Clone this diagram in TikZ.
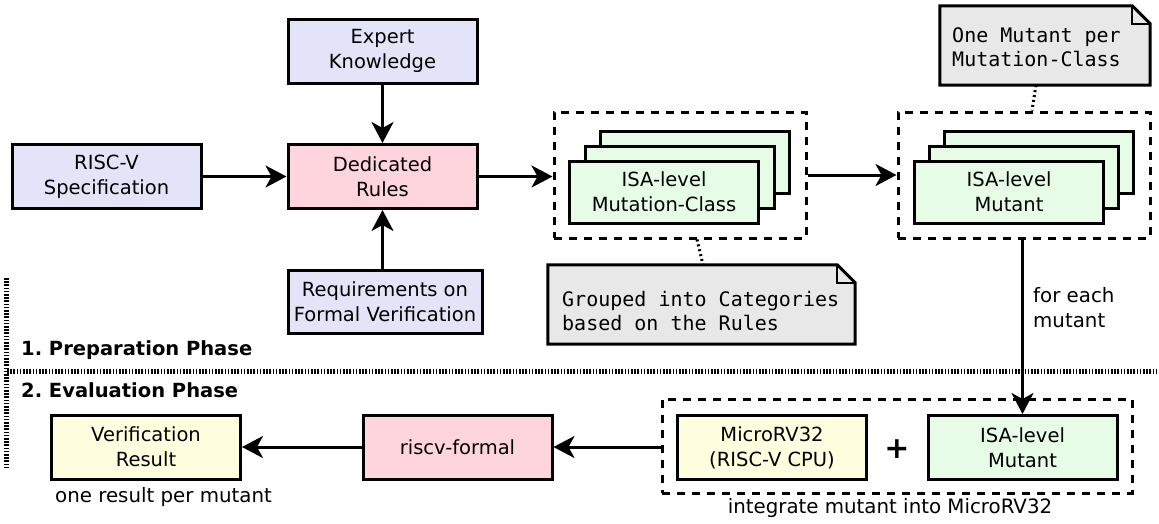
\documentclass[tikz,border=0pt]{standalone}
\usepackage{fontspec}
\setmainfont{DejaVu Sans}
\setmonofont{DejaVu Sans Mono}
\usetikzlibrary{arrows.meta,calc}
\definecolor{cblue}{HTML}{E4E4F8}
\definecolor{cpink}{HTML}{FFD5DD}
\definecolor{cgreen}{HTML}{E6FCE6}
\definecolor{cyellow}{HTML}{FFFFE0}
\definecolor{cnote}{HTML}{E8E8E8}
\frenchspacing
\tikzset{
  box/.style={draw, line width=3pt, minimum width=189pt, minimum height=64pt, align=center, inner sep=0pt, font=\fontsize{19.5}{25}\selectfont},
  card/.style={box, fill=cgreen, minimum height=62pt},
  grp/.style={draw, line width=3pt, dash pattern=on 8pt off 7pt, inner sep=0pt},
  arr/.style={line width=3pt, -{Stealth[length=21pt,width=22pt,inset=6pt]}},
  dotc/.style={line width=3pt, dash pattern=on 2pt off 3pt},
  notetxt/.style={align=left, inner sep=0pt, font=\ttfamily\fontsize{20}{24}\selectfont},
  lbl/.style={inner sep=0pt, font=\fontsize{19.8}{25}\selectfont, align=left},
  phase/.style={inner sep=0pt, anchor=west, font=\bfseries\fontsize{19.5}{25}\selectfont},
  sep/.style={line width=5pt, dash pattern=on 1.6pt off 1.6pt}
}
\begin{document}
\begin{tikzpicture}[x=1pt,y=-1pt]
\useasboundingbox (0,0) rectangle (1159,523);
% upper row
\node[box, fill=cblue] (expert) at (382.5,51) {Expert\\Knowledge};
\node[box, fill=cblue] (riscv) at (106.5,176.5) {RISC-V\\Specification};
\node[box, fill=cpink] (rules) at (382.5,176.5) {Dedicated\\Rules};
\node[box, fill=cblue, minimum width=194pt, minimum height=63pt] (req) at (385,301.5) {Requirements on\\Formal Verification};
% group A
\node[grp, minimum width=252pt, minimum height=126pt] (dashA) at (680,175) {};
\node[card] (a3) at (694.5,162) {};
\node[card] (a2) at (679.5,177) {};
\node[card] (a1) at (664,192) {ISA-level\\Mutation-Class};
% group B
\node[grp, minimum width=252pt, minimum height=126pt] (dashB) at (1024,175) {};
\node[card] (b3) at (1038.5,162) {};
\node[card] (b2) at (1023.5,177) {};
\node[card] (b1) at (1009,192) {ISA-level\\Mutant};
% notes
\node[minimum width=210pt, minimum height=79pt, inner sep=0pt] (note1) at (1045,45.5) {};
\draw[line width=3pt, fill=cnote, line join=miter]
  (note1.north west) -- ($(note1.north east)+(-18,0)$) -- ($(note1.north east)+(0,18)$) -- (note1.south east) -- (note1.south west) -- cycle;
\draw[line width=1.5pt] ($(note1.north east)+(-18,0)$) -- ($(note1.north east)+(-18,18)$) -- ($(note1.north east)+(0,18)$);
\node[notetxt, anchor=west] (note1t) at (952,47) {One Mutant per\\Mutation-Class};
\node[minimum width=307pt, minimum height=79pt, inner sep=0pt] (note2) at (701.5,304.5) {};
\draw[line width=3pt, fill=cnote, line join=miter]
  (note2.north west) -- ($(note2.north east)+(-18,0)$) -- ($(note2.north east)+(0,18)$) -- (note2.south east) -- (note2.south west) -- cycle;
\draw[line width=1.5pt] ($(note2.north east)+(-18,0)$) -- ($(note2.north east)+(-18,18)$) -- ($(note2.north east)+(0,18)$);
\node[notetxt, anchor=west] (note2t) at (562,311) {Grouped into Categories\\based on the Rules};
% dotted links
\draw[dotc] ($(note1.south)+(-9,0)$) -- ($(dashB.north)+(8,0)$);
\draw[dotc] ($(dashA.south)+(17,0)$) -- ($(note2.north)+(1.5,0)$);
% upper arrows
\draw[arr] (expert) -- (rules);
\draw[arr] (riscv) -- (rules);
\draw[arr] (req.north -| rules.south) -- (rules.south);
\draw[arr] (rules.east) -- (rules.east -| dashA.west);
\draw[arr] (dashA) -- (dashB);
% separators
\draw[sep] (7,371) -- (1159,371);
\draw[sep] (6,278) -- (6,467);
\node[phase] (p1) at (21,350) {1. Preparation Phase};
\node[phase] (p2) at (21,390) {2. Evaluation Phase};
% bottom row
\node[box, fill=cyellow] (verif) at (146,447) {Verification\\Result};
\node[box, fill=cpink] (rformal) at (457.5,447) {riscv-formal};
\node[grp, minimum width=470pt, minimum height=94pt] (dashC) at (897,446) {};
\node[box, fill=cyellow] (micro) at (772,447.5) {MicroRV32\\(RISC-V CPU)};
\node[box, fill=cgreen] (mutant) at (1022.5,447.5) {ISA-level\\Mutant};
\node[inner sep=0pt, font=\bfseries\fontsize{30}{30}\selectfont] (plus) at (897,449) {+};
\node[lbl] (onepm) at (163.5,497) {one result per mutant};
\node[lbl] (integ) at (890,508) {integrate mutant into MicroRV32};
\node[lbl, anchor=west] (foreach) at (1033,307.5) {for each\\mutant};
% bottom arrows
\draw[arr] (dashB.south -| mutant.north) -- (mutant.north);
\draw[arr] (dashC.west |- rformal.east) -- (rformal.east);
\draw[arr] (rformal) -- (verif);
\end{tikzpicture}
\end{document}
